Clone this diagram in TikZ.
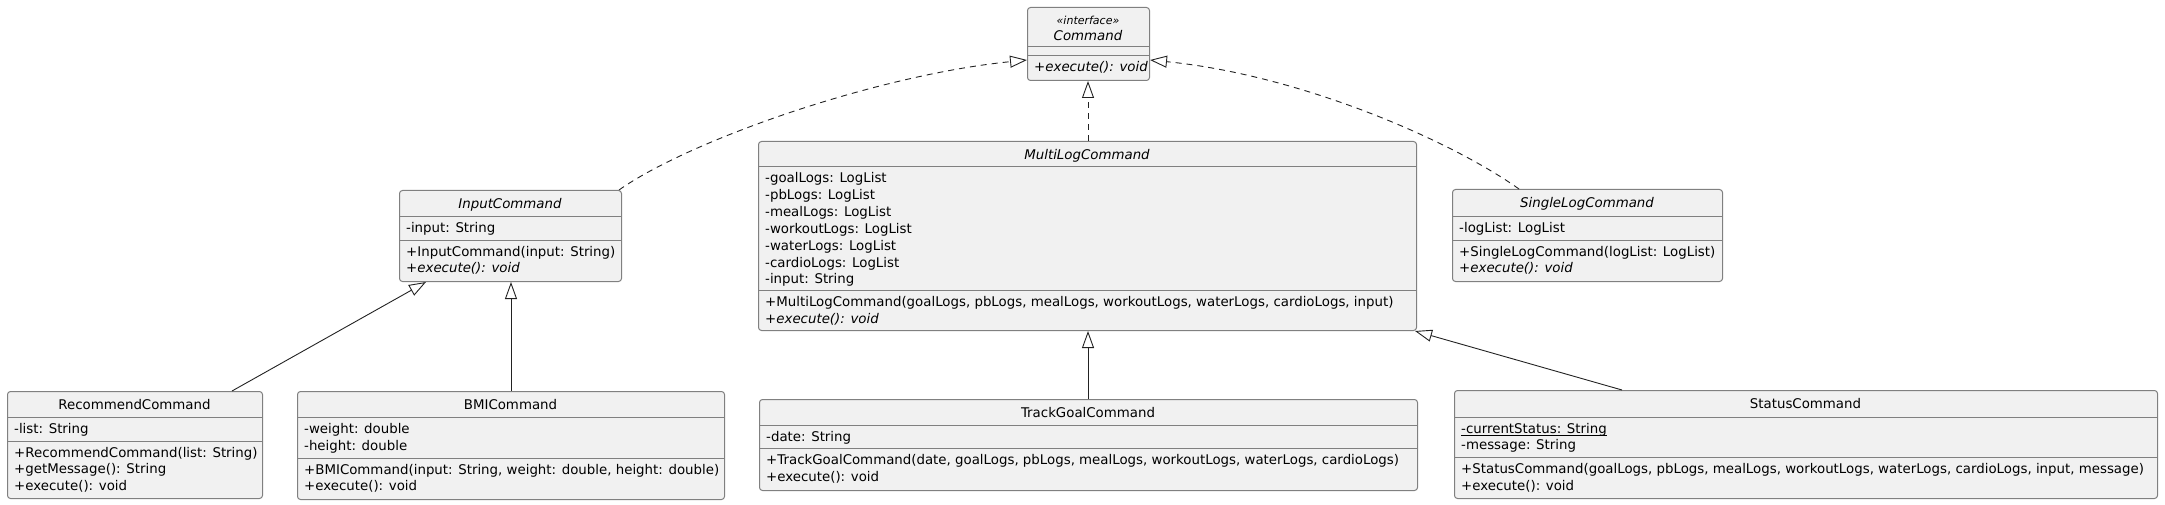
\documentclass[tikz,border=0pt]{standalone}
\usepackage{fontspec}
\setmainfont{DejaVu Sans}
\usetikzlibrary{arrows.meta,calc}
\definecolor{boxfill}{HTML}{F1F1F1}
\definecolor{boxline}{HTML}{808080}
\definecolor{conn}{HTML}{222222}
\begin{document}
\begin{tikzpicture}[x=1pt,y=-1pt,
  umlbox/.style={draw=boxline, fill=boxfill, line width=1pt, rounded corners=3pt, anchor=north west, inner sep=0pt},
  sepline/.style={draw=boxline, line width=1pt},
  txt/.style={inner sep=0pt, font=\fontsize{13.35}{16.8}\selectfont, anchor=base west},
  ttl/.style={inner sep=0pt, font=\fontsize{13.35}{16.8}\selectfont, anchor=base},
  it/.style={font=\fontsize{13.35}{16.8}\selectfont\itshape},
  stereo/.style={font=\fontsize{11}{13}\selectfont\itshape},
  realize/.style={draw=conn, line width=0.9pt, dash pattern=on 6pt off 5pt, -{Triangle[open,length=17pt,width=12pt]}},
  extend/.style={draw=conn, line width=0.9pt, -{Triangle[open,length=17pt,width=12pt]}}]
\useasboundingbox (0,0) rectangle (2165,505);

% ---------- Command ----------
\node[umlbox, minimum width=122pt, minimum height=73pt] (command) at (1027,7) {};
\draw[sepline] ($(command.north west)+(0,40)$) -- ($(command.north east)+(0,40)$);
\draw[sepline] ($(command.north west)+(0,49)$) -- ($(command.north east)+(0,49)$);
\node[ttl, stereo] (command-st) at (1088,25) {«interface»};
\node[ttl, it] (command-nm) at (1088,40.5) {Command};
\node[txt, it] (command-m1) at (1034,72) {+execute(): void};

% ---------- InputCommand ----------
\node[umlbox, minimum width=222pt, minimum height=91pt] (input) at (399,190) {};
\draw[sepline] ($(input.north west)+(0,27)$) -- ($(input.north east)+(0,27)$);
\draw[sepline] ($(input.north west)+(0,50)$) -- ($(input.north east)+(0,50)$);
\node[ttl, it] (input-nm) at (510,208.5) {InputCommand};
\node[txt] (input-a1) at (406,233) {-input: String};
\node[txt] (input-m1) at (406,256) {+InputCommand(input: String)};
\node[txt, it] (input-m2) at (406,272.8) {+execute(): void};

% ---------- MultiLogCommand ----------
\node[umlbox, minimum width=658pt, minimum height=189pt] (multilog) at (758,141) {};
\draw[sepline] ($(multilog.north west)+(0,26)$) -- ($(multilog.north east)+(0,26)$);
\draw[sepline] ($(multilog.north west)+(0,149.5)$) -- ($(multilog.north east)+(0,149.5)$);
\node[ttl, it] (multilog-nm) at (1087,159.5) {MultiLogCommand};
\node[txt] (multilog-a1) at (765,183) {-goalLogs: LogList};
\node[txt] (multilog-a2) at (765,199.8) {-pbLogs: LogList};
\node[txt] (multilog-a3) at (765,216.6) {-mealLogs: LogList};
\node[txt] (multilog-a4) at (765,233.4) {-workoutLogs: LogList};
\node[txt] (multilog-a5) at (765,250.2) {-waterLogs: LogList};
\node[txt] (multilog-a6) at (765,267) {-cardioLogs: LogList};
\node[txt] (multilog-a7) at (765,283.8) {-input: String};
\node[txt] (multilog-m1) at (765,306.5) {+MultiLogCommand(goalLogs, pbLogs, mealLogs, workoutLogs, waterLogs, cardioLogs, input)};
\node[txt, it] (multilog-m2) at (765,323.3) {+execute(): void};

% ---------- SingleLogCommand ----------
\node[umlbox, minimum width=270pt, minimum height=92pt] (singlelog) at (1452,189) {};
\draw[sepline] ($(singlelog.north west)+(0,28)$) -- ($(singlelog.north east)+(0,28)$);
\draw[sepline] ($(singlelog.north west)+(0,51)$) -- ($(singlelog.north east)+(0,51)$);
\node[ttl, it] (singlelog-nm) at (1587,207.5) {SingleLogCommand};
\node[txt] (singlelog-a1) at (1459,233) {-logList: LogList};
\node[txt] (singlelog-m1) at (1459,256) {+SingleLogCommand(logList: LogList)};
\node[txt, it] (singlelog-m2) at (1459,272.8) {+execute(): void};

% ---------- RecommendCommand ----------
\node[umlbox, minimum width=255pt, minimum height=107pt] (recommend) at (7,391) {};
\draw[sepline] ($(recommend.north west)+(0,26.5)$) -- ($(recommend.north east)+(0,26.5)$);
\draw[sepline] ($(recommend.north west)+(0,50)$) -- ($(recommend.north east)+(0,50)$);
\node[ttl] (recommend-nm) at (134.5,409.5) {RecommendCommand};
\node[txt] (recommend-a1) at (14,433.5) {-list: String};
\node[txt] (recommend-m1) at (14,457) {+RecommendCommand(list: String)};
\node[txt] (recommend-m2) at (14,473.8) {+getMessage(): String};
\node[txt] (recommend-m3) at (14,490.6) {+execute(): void};

% ---------- BMICommand ----------
\node[umlbox, minimum width=427pt, minimum height=108pt] (bmi) at (297,391) {};
\draw[sepline] ($(bmi.north west)+(0,26.5)$) -- ($(bmi.north east)+(0,26.5)$);
\draw[sepline] ($(bmi.north west)+(0,67)$) -- ($(bmi.north east)+(0,67)$);
\node[ttl] (bmi-nm) at (510.5,409.5) {BMICommand};
\node[txt] (bmi-a1) at (304,433.5) {-weight: double};
\node[txt] (bmi-a2) at (304,450.3) {-height: double};
\node[txt] (bmi-m1) at (304,474) {+BMICommand(input: String, weight: double, height: double)};
\node[txt] (bmi-m2) at (304,490.8) {+execute(): void};

% ---------- TrackGoalCommand ----------
\node[umlbox, minimum width=658pt, minimum height=91pt] (trackgoal) at (759,399) {};
\draw[sepline] ($(trackgoal.north west)+(0,26)$) -- ($(trackgoal.north east)+(0,26)$);
\draw[sepline] ($(trackgoal.north west)+(0,49.5)$) -- ($(trackgoal.north east)+(0,49.5)$);
\node[ttl] (trackgoal-nm) at (1088,417.5) {TrackGoalCommand};
\node[txt] (trackgoal-a1) at (766,441) {-date: String};
\node[txt] (trackgoal-m1) at (766,464.5) {+TrackGoalCommand(date, goalLogs, pbLogs, mealLogs, workoutLogs, waterLogs, cardioLogs)};
\node[txt] (trackgoal-m2) at (766,481.3) {+execute(): void};

% ---------- StatusCommand ----------
\node[umlbox, minimum width=703pt, minimum height=108pt] (status) at (1454,390) {};
\draw[sepline] ($(status.north west)+(0,27)$) -- ($(status.north east)+(0,27)$);
\draw[sepline] ($(status.north west)+(0,67.5)$) -- ($(status.north east)+(0,67.5)$);
\node[ttl] (status-nm) at (1805.5,408.5) {StatusCommand};
\node[txt] (status-a1) at (1461,433) {-currentStatus: String};
\draw[line width=0.9pt] ($(status-a1.base west)+(0,2.2)$) -- ($(status-a1.base east)+(0,2.2)$);
\node[txt] (status-a2) at (1461,449.8) {-message: String};
\node[txt] (status-m1) at (1461,473.5) {+StatusCommand(goalLogs, pbLogs, mealLogs, workoutLogs, waterLogs, cardioLogs, input, message)};
\node[txt] (status-m2) at (1461,490.3) {+execute(): void};

% ---------- Connectors ----------
\draw[realize] ($(input.north east)+(-3,0)$) .. controls (690,140) and (877,75) .. ($(command.north west)+(0,53)$);
\draw[realize] ($(multilog.north west)+(330,0)$) -- ($(command.south west)+(61,0)$);
\draw[realize] ($(singlelog.north west)+(67,0)$) .. controls (1450,140) and (1300,75) .. ($(command.north east)+(0,53)$);
\draw[extend] ($(recommend.north west)+(225,0)$) -- ($(input.south west)+(27,0)$);
\draw[extend] ($(bmi.north west)+(214,0)$) -- ($(input.south west)+(112,0)$);
\draw[extend] ($(trackgoal.north west)+(329,0)$) -- ($(multilog.south west)+(330,0)$);
\draw[extend] ($(status.north west)+(168,0)$) -- ($(multilog.south east)+(-2,0)$);
\end{tikzpicture}
\end{document}
